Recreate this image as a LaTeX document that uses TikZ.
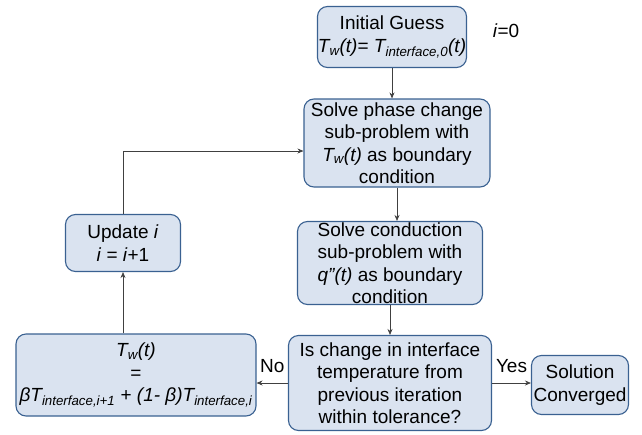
\documentclass[tikz,border=0pt]{standalone}
\usepackage{fontspec}
\setmainfont{Liberation Sans}
\usetikzlibrary{arrows.meta}
\definecolor{boxfill}{HTML}{DAE3F0}
\definecolor{boxline}{HTML}{3A6191}
\definecolor{conn}{HTML}{404040}
\newcommand\Twt{\textit{T\textsubscript{w}(t)}}
\begin{document}
\begin{tikzpicture}[x=1pt,y=-1pt,
  procbox/.style={draw=boxline,fill=boxfill,rounded corners=10pt,line width=1.1pt,
    align=center,inner sep=0pt,font=\fontsize{19}{22.5}\selectfont},
  conarrow/.style={draw=conn,line width=0.7pt,-{Stealth[length=6pt,width=5pt]}},
  lbl/.style={font=\fontsize{19}{20}\selectfont,inner sep=0pt}]
\useasboundingbox (0,0) rectangle (642,434);
\node[procbox,minimum width=149,minimum height=61] (b1) at (392,37)
  {Initial Guess\\ \Twt= \textit{T\textsubscript{interface,0}(t)}};
\node[lbl] (i0) at (506,31) {\textit{i}=0};
\node[procbox,minimum width=186,minimum height=88] (b2) at (397,143)
  {Solve phase change\\sub-problem with\\\Twt{} as boundary\\condition};
\node[procbox,minimum width=185,minimum height=83] (b3) at (390,263)
  {Solve conduction\\sub-problem with\\\textit{q"(t)} as boundary\\condition};
\node[procbox,minimum width=203,minimum height=95] (b4) at (390,383)
  {Is change in interface\\temperature from\\previous iteration\\within tolerance?};
\node[procbox,minimum width=97,minimum height=59] (b5) at (580,385)
  {Solution\\Converged};
\node[procbox,minimum width=240,minimum height=82] (b6) at (136,375)
  {\Twt\\=\\\textit{βT\textsubscript{interface,i+1}} + \textit{(1- β)T\textsubscript{interface,i}}};
\node[procbox,minimum width=115,minimum height=57] (b7) at (123,243)
  {Update \textit{i}\\\textit{i} = \textit{i}+1};
\draw[conarrow] (b1.south) -- (b1.south |- b2.north);
\draw[conarrow] (b2.south) -- (b2.south |- b3.north);
\draw[conarrow] (b3.south) -- (b3.south |- b4.north);
\draw[conarrow] (b4.west) -- (b4.west -| b6.east) node[lbl,midway,above=10pt] (no) {No};
\draw[conarrow] (b4.east) -- (b4.east -| b5.west) node[lbl,midway,above=10pt] (yes) {Yes};
\draw[conarrow] (b7.south |- b6.north) -- (b7.south);
\draw[conarrow] (b7.north) |- ([yshift=-8pt]b2.west);
\end{tikzpicture}
\end{document}
